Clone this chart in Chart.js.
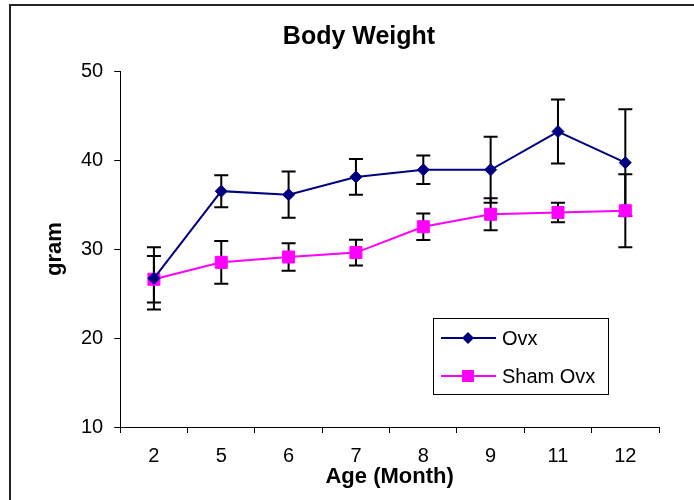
<!DOCTYPE html>
<html>
<head>
<meta charset="utf-8">
<script src="https://cdn.jsdelivr.net/npm/chart.js@4"></script>
<style>
  html, body { margin: 0; padding: 0; background: #fff; overflow: hidden; }
  #wrap { position: relative; width: 694px; height: 500px; }
  #frame { position: absolute; left: 9px; top: 4px; width: 720px; height: 520px;
           border-left: 2px solid #222; border-top: 2px solid #222; pointer-events: none; }
</style>
</head>
<body>
<div id="wrap">
  <canvas id="grafico" width="694" height="500"></canvas>
  <div id="frame"></div>
</div>
<script>
// Dados
const meses = ['2', '5', '6', '7', '8', '9', '11', '12'];
const ovx = [26.7, 36.5, 36.1, 38.1, 38.9, 38.9, 43.2, 39.7];
const ovxErro = [3.5, 1.8, 2.6, 2.0, 1.6, 3.7, 3.6, 6.0];
const sham = [26.6, 28.5, 29.1, 29.6, 32.5, 33.9, 34.1, 34.3];
const shamErro = [2.6, 2.4, 1.55, 1.45, 1.5, 1.8, 1.1, 4.1];
const yTicks = [10, 20, 30, 40, 50];

const fonte = "'Liberation Sans', Arial, sans-serif";

// Barras de erro desenhadas por baixo das linhas
const barrasErro = {
  id: 'barrasErro',
  beforeDatasetsDraw(chart) {
    const ctx = chart.ctx;
    const y = chart.scales.y;
    ctx.save();
    ctx.strokeStyle = '#000';
    ctx.lineWidth = 2;
    chart.data.datasets.forEach((ds, i) => {
      const meta = chart.getDatasetMeta(i);
      meta.data.forEach((pt, j) => {
        const v = ds.data[j], e = ds.erro[j];
        const yTop = y.getPixelForValue(v + e);
        const yBot = y.getPixelForValue(v - e);
        ctx.beginPath();
        ctx.moveTo(pt.x, yTop); ctx.lineTo(pt.x, yBot);
        ctx.moveTo(pt.x - 7, yTop); ctx.lineTo(pt.x + 7, yTop);
        ctx.moveTo(pt.x - 7, yBot); ctx.lineTo(pt.x + 7, yBot);
        ctx.stroke();
      });
    });
    ctx.restore();
  }
};

// Legenda dentro da área do gráfico
const legendaCaixa = {
  id: 'legendaCaixa',
  afterDatasetsDraw(chart) {
    const ctx = chart.ctx;
    const a = chart.chartArea;
    const w = 175, h = 76;
    const x0 = a.right - 51 - w, y0 = a.bottom - 33 - h;
    ctx.save();
    ctx.fillStyle = '#fff';
    ctx.fillRect(x0, y0, w, h);
    ctx.strokeStyle = '#000';
    ctx.lineWidth = 1;
    ctx.strokeRect(x0 + 0.5, y0 + 0.5, w, h);
    chart.data.datasets.forEach((ds, i) => {
      const cy = y0 + 20 + i * 38;
      const cx = x0 + 35;
      ctx.strokeStyle = ds.borderColor;
      ctx.lineWidth = 2;
      ctx.beginPath();
      ctx.moveTo(x0 + 8, cy); ctx.lineTo(x0 + 63, cy);
      ctx.stroke();
      ctx.fillStyle = ds.borderColor;
      ctx.beginPath();
      if (ds.pointStyle === 'rect') {
        const s = ds.pointRadius * Math.SQRT1_2;
        ctx.rect(cx - s, cy - s, 2 * s, 2 * s);
      } else {
        const r = ds.pointRadius;
        ctx.moveTo(cx - r, cy); ctx.lineTo(cx, cy - r);
        ctx.lineTo(cx + r, cy); ctx.lineTo(cx, cy + r); ctx.closePath();
      }
      ctx.fill();
      ctx.fillStyle = '#000';
      ctx.font = '20px ' + fonte;
      ctx.textBaseline = 'middle';
      ctx.textAlign = 'left';
      ctx.fillText(ds.label, x0 + 69, cy + 1);
    });
    ctx.restore();
  }
};

const ctx = document.getElementById('grafico').getContext('2d');
new Chart(ctx, {
  type: 'line',
  data: {
    labels: meses,
    datasets: [
      {
        label: 'Ovx',
        data: ovx,
        erro: ovxErro,
        borderColor: '#000080',
        backgroundColor: '#000080',
        borderWidth: 2,
        pointStyle: 'rectRot',
        pointRadius: 6,
        pointBorderWidth: 1,
        tension: 0
      },
      {
        label: 'Sham Ovx',
        data: sham,
        erro: shamErro,
        borderColor: '#FF00FF',
        backgroundColor: '#FF00FF',
        borderWidth: 2,
        pointStyle: 'rect',
        pointRadius: 8.5,
        pointBorderWidth: 1,
        tension: 0
      }
    ]
  },
  options: {
    responsive: false,
    animation: false,
    events: [],
    layout: { padding: { left: 59, right: 35, top: 0, bottom: 14 } },
    scales: {
      x: {
        offset: true,
        grid: { offset: true, drawOnChartArea: false, drawTicks: true, tickLength: 6, color: '#000' },
        border: { color: '#000', width: 1 },
        ticks: { color: '#000', padding: 13, font: { family: fonte, size: 20, lineHeight: 1 } },
        title: {
          display: true, text: 'Age (Month)', color: '#000',
          font: { family: fonte, size: 22, weight: 'bold', lineHeight: 1 },
          padding: { top: -13, bottom: -2 }
        }
      },
      y: {
        min: 10,
        max: 50,
        afterBuildTicks(axis) { axis.ticks = yTicks.map(v => ({ value: v })); },
        grid: { drawOnChartArea: false, drawTicks: true, tickLength: 6, color: '#000' },
        border: { color: '#000', width: 1 },
        ticks: { color: '#000', padding: 11, font: { family: fonte, size: 20, lineHeight: 1 } },
        title: {
          display: true, text: 'gram', color: '#000',
          font: { family: fonte, size: 22, weight: 'bold', lineHeight: 1 },
          padding: { top: -15, bottom: 4 }
        }
      }
    },
    plugins: {
      legend: { display: false },
      tooltip: { enabled: false },
      title: {
        display: true,
        text: 'Body Weight',
        color: '#000',
        font: { family: fonte, size: 25, weight: 'bold', lineHeight: 1.2 },
        padding: { top: 22, bottom: 19 }
      }
    }
  },
  plugins: [barrasErro, legendaCaixa]
});
</script>
</body>
</html>
